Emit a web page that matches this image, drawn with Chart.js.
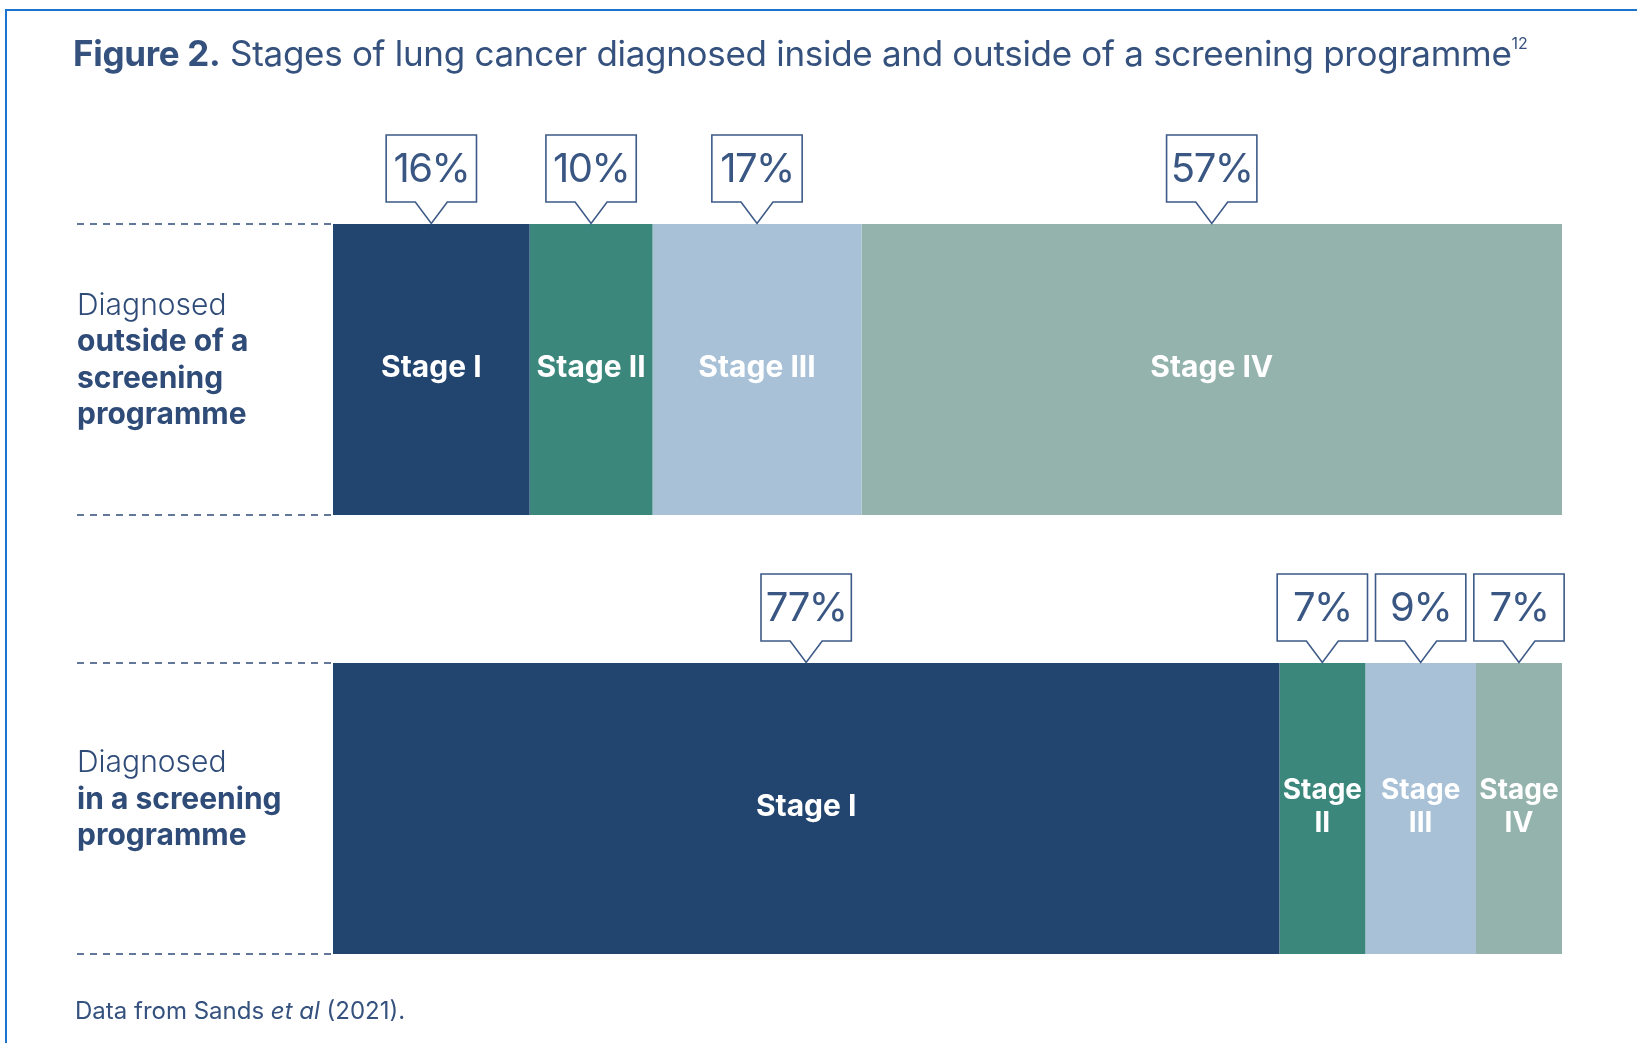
<!DOCTYPE html>
<html>
<head>
<meta charset="utf-8">
<script src="https://cdn.jsdelivr.net/npm/chart.js@4.4.1/dist/chart.umd.min.js"></script>
<style>
  html, body { margin: 0; padding: 0; background: #fff; }
  body { width: 1637px; height: 1043px; position: relative; overflow: hidden; font-family: Inter, "Noto Sans", sans-serif; }
  .frame { position: absolute; left: 5px; top: 9px; width: 1700px; height: 1100px; border-left: 2px solid #1b75cf; border-top: 2px solid #1b75cf; }
  #stage { position: absolute; left: 0; top: 0; }
  h1 { position: absolute; left: 73px; top: 33px; margin: 0; font-size: 35px; line-height: 40px; font-weight: 400; color: #35517e; white-space: nowrap; letter-spacing: -0.3px; }
  h1 b { font-weight: 700; }
  h1 sup { font-size: 16px; line-height: 0; vertical-align: 17px; letter-spacing: 0; }
  .note { position: absolute; left: 75px; top: 997px; font-size: 24px; line-height: 28px; color: #35517e; white-space: nowrap; }
</style>
</head>
<body>
<div class="frame"></div>
<canvas id="stage" width="1637" height="1043"></canvas>
<h1><b>Figure 2.</b> Stages of lung cancer diagnosed inside and outside of a screening programme<sup>12</sup></h1>
<div class="note">Data from Sands <i>et al</i> (2021).</div>
<script>
// rows, first line is set light, the rest bold
const categories = [
    ['Diagnosed', 'outside of a', 'screening', 'programme'],
    ['Diagnosed', 'in a screening', 'programme']
];
const stageNames = ['Stage I', 'Stage II', 'Stage III', 'Stage IV'];
// % of diagnoses, [outside screening, in screening]
const stageI = [16, 77];
const stageII = [10, 7];
const stageIII = [17, 9];
const stageIV = [57, 7];

const stageColors = ['#224570', '#3b877c', '#a8c1d7', '#95b3ad'];
const navy = '#2f4b78';

const overlay = {
    id: 'overlay',
    afterDatasetsDraw(chart) {
        const ctx = chart.ctx;
        const area = chart.chartArea;
        const rows = chart.getDatasetMeta(0).data;
        ctx.save();

        // dashed guides and row labels
        rows.forEach((bar, i) => {
            const top = bar.y - bar.height / 2;
            const bottom = bar.y + bar.height / 2;
            ctx.strokeStyle = navy;
            ctx.lineWidth = 1.5;
            ctx.setLineDash([7, 6]);
            [top, bottom].forEach(y => {
                ctx.beginPath();
                ctx.moveTo(77, y);
                ctx.lineTo(area.left, y);
                ctx.stroke();
            });
            ctx.setLineDash([]);

            const lines = chart.data.labels[i];
            const lh = 36.5;
            const y0 = bar.y - 9 - (lines.length - 1) * lh / 2;
            ctx.fillStyle = navy;
            ctx.textAlign = 'left';
            ctx.textBaseline = 'middle';
            lines.forEach((t, k) => {
                ctx.font = (k === 0 ? '300' : '700') + ' 30px Inter';
                ctx.fillText(t, 77, y0 + k * lh);
            });
        });

        // callout width: keep neighbours from overlapping
        let boxW = 102;
        rows.forEach((r, i) => {
            const cs = chart.data.datasets.map((d, j) => {
                const b = chart.getDatasetMeta(j).data[i];
                return (b.x + b.base) / 2;
            }).sort((a, b) => a - b);
            for (let k = 1; k < cs.length; k++) boxW = Math.min(boxW, cs[k] - cs[k - 1] - 8);
        });
        const boxH = 67, gap = 22, notch = 16;

        chart.data.datasets.forEach((ds, j) => {
            chart.getDatasetMeta(j).data.forEach((bar, i) => {
                const cx = (bar.x + bar.base) / 2;
                const w = Math.abs(bar.x - bar.base);
                const top = bar.y - bar.height / 2;

                // stage name inside the bar
                ctx.fillStyle = '#ffffff';
                ctx.textAlign = 'center';
                ctx.textBaseline = 'middle';
                ctx.letterSpacing = '0px';
                ctx.font = '700 30px Inter';
                const name = ds.label;
                if (ctx.measureText(name).width <= w - 6) {
                    ctx.fillText(name, cx, bar.y - 2);
                } else {
                    ctx.font = '700 28px Inter';
                    const parts = name.split(' ');
                    ctx.fillText(parts[0], cx, bar.y - 18);
                    ctx.fillText(parts[1], cx, bar.y + 15);
                }

                // percentage callout
                const bx = cx - boxW / 2;
                const by = top - gap - boxH;
                ctx.beginPath();
                ctx.moveTo(bx, by);
                ctx.lineTo(bx + boxW, by);
                ctx.lineTo(bx + boxW, by + boxH);
                ctx.lineTo(cx + notch, by + boxH);
                ctx.lineTo(cx, top - 0.5);
                ctx.lineTo(cx - notch, by + boxH);
                ctx.lineTo(bx, by + boxH);
                ctx.closePath();
                ctx.fillStyle = '#ffffff';
                ctx.fill();
                ctx.strokeStyle = '#3d5a88';
                ctx.lineWidth = 1.6;
                ctx.stroke();

                ctx.fillStyle = '#3a5683';
                ctx.font = '400 40px Inter';
                ctx.letterSpacing = '-1.5px';
                ctx.fillText(ds.data[i] + '%', cx, by + boxH / 2 + 1);
            });
        });
        ctx.restore();
    }
};

const stageData = [stageI, stageII, stageIII, stageIV];

new Chart(document.getElementById('stage').getContext('2d'), {
    type: 'bar',
    data: {
        labels: categories,
        datasets: stageNames.map((s, k) => ({
            label: s,
            data: stageData[k],
            backgroundColor: stageColors[k],
            borderWidth: 0,
            categoryPercentage: 1,
            barPercentage: 0.663
        }))
    },
    options: {
        indexAxis: 'y',
        responsive: false,
        animation: false,
        layout: { padding: { left: 333, right: 75, top: 150, bottom: 15 } },
        scales: {
            x: { stacked: true, min: 0, max: 100, display: false },
            y: { stacked: true, display: false }
        },
        plugins: { legend: { display: false }, tooltip: { enabled: false } }
    },
    plugins: [overlay]
});
</script>
</body>
</html>
